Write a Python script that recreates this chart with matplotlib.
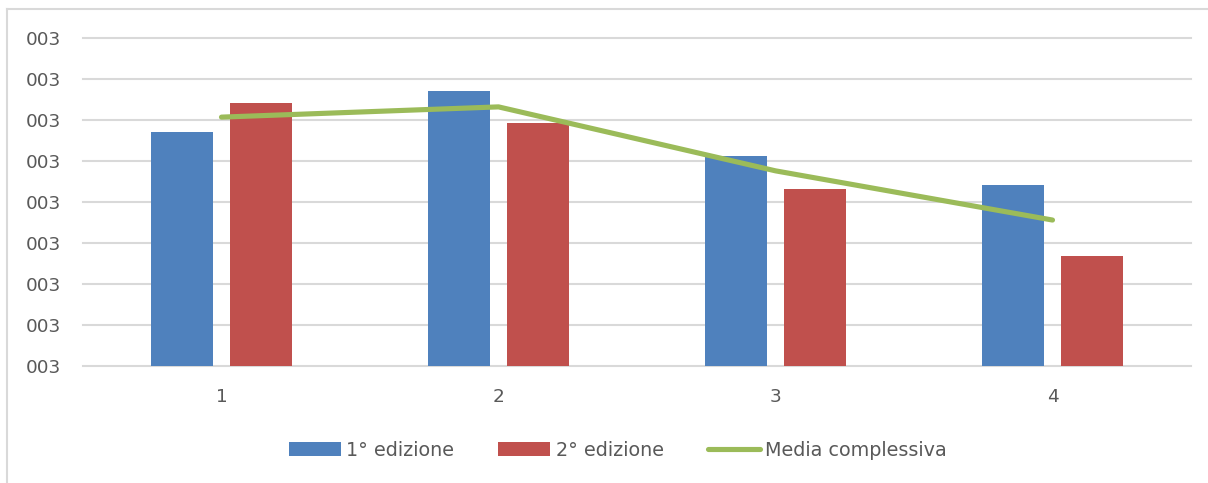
import matplotlib.pyplot as plt
from matplotlib.lines import Line2D
import numpy as np

# data (grid steps)
categories = ['1', '2', '3', '4']
edition1 = [5.71, 6.71, 5.12, 4.41]
edition2 = [6.41, 5.93, 4.32, 2.68]
overall_mean = [6.07, 6.32, 4.76, 3.56]
ytick_labels = ['003'] * 9

blue, red, green = '#4f81bd', '#c0504d', '#9bbb59'
text_color = '#595959'
grid_color = '#d9d9d9'

plt.rcParams['font.family'] = ['DejaVu Sans']

fig = plt.figure(figsize=(12.08, 4.83), dpi=100)
ax = fig.add_axes([83 / 1208, 1 - 366 / 483, 1108 / 1208, 328 / 483])

x = np.arange(len(categories))
w = 0.224
b1 = ax.bar(x - 0.141, edition1, w, color=blue, label='1° edizione', zorder=2)
b2 = ax.bar(x + 0.144, edition2, w, color=red, label='2° edizione', zorder=2)
ln, = ax.plot(x, overall_mean, color=green, lw=3.7, solid_capstyle='round',
              label='Media complessiva', zorder=3)

# axes properties
ax.set_xlim(-0.5, 3.5)
ax.set_ylim(0, 8)
ax.set_yticks(range(9))
ax.set_yticklabels(ytick_labels)
ax.set_xticks(x)
ax.set_xticklabels(categories)
ax.tick_params(length=0, labelsize=13.3, colors=text_color)
ax.tick_params(axis='y', pad=16)
ax.tick_params(axis='x', pad=16)
ax.grid(axis='y', color=grid_color, lw=1.5, zorder=0)
for gl in ax.get_ygridlines():
    gl.set_clip_on(False)
for side in ax.spines.values():
    side.set_visible(False)

# legend
ax.legend([b1, b2, ln], ['1° edizione', '2° edizione', 'Media complessiva'],
          loc='center', bbox_to_anchor=(618 / 1208, 1 - 450 / 483),
          bbox_transform=fig.transFigure, ncol=3, frameon=False,
          fontsize=13.8, labelcolor=text_color, handlelength=2.7,
          handleheight=0.7, handletextpad=0.3, columnspacing=2.3)

# outer chart frame (left and top edges visible)
fig.add_artist(Line2D([7 / 1208, 7 / 1208], [0, 1 - 9 / 483],
                      transform=fig.transFigure, color=grid_color, lw=1.5))
fig.add_artist(Line2D([7 / 1208, 1], [1 - 9 / 483, 1 - 9 / 483],
                      transform=fig.transFigure, color=grid_color, lw=1.5))

fig.savefig('out.png', dpi=100)
